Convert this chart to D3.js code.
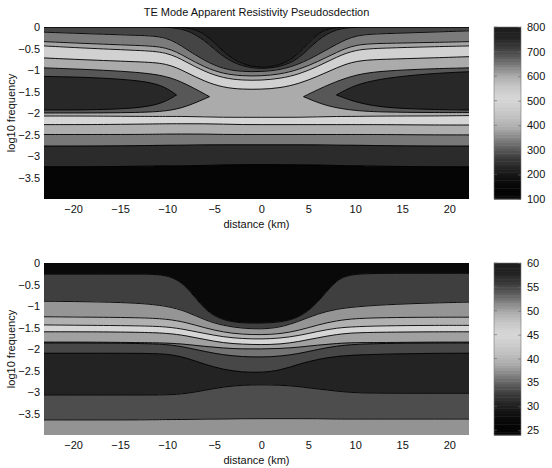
<!DOCTYPE html>
<html>
<head>
<meta charset="utf-8">
<script src="https://cdn.jsdelivr.net/npm/d3@7"></script>
<style>
body { margin: 0; background: #fff; }
text { font-family: "Liberation Sans", Arial, sans-serif; font-size: 11px; fill: #111; }
</style>
</head>
<body>
<svg id="chart" width="552" height="468"></svg>
<script>
// distance nodes (km) shared by both sections
var distance = [-23.1, -18, -13, -10, -8, -6, -4, -2, 0, 2, 4, 6, 8, 10, 13, 18, 22.1];

// colormap: position 0..1 -> grey level
var cmapPos  = [0, 0.06, 0.12, 0.18, 0.24, 0.29, 0.35, 0.41, 0.47, 0.53, 0.59, 0.65, 0.71, 0.76, 0.82, 0.88, 0.94, 1];
var cmapGray = [5, 5, 15, 35, 60, 90, 130, 170, 190, 205, 215, 200, 175, 140, 95, 60, 35, 28];

// upper section: apparent resistivity of each band, top to bottom
var rhoValues = [790, 750, 705, 648, 607, 530, 390, 515, 395, 335, 240, 120];
// log10 frequency of each band boundary at the distance nodes
var rhoBounds = [
  [0, 0, 0, 0, 0, -0.12, -0.6, -0.88, -0.95, -0.9, -0.65, -0.1, 0, 0, 0, 0, 0],
  [0, 0, 0, 0, -0.05, -0.3, -0.72, -0.92, -0.98, -0.93, -0.76, -0.28, -0.04, 0, 0, 0, 0],
  [-0.12, -0.16, -0.195, -0.22, -0.51, -0.79, -0.98, -1.04, -1.04, -1.0, -0.87, -0.65, -0.4, -0.18, -0.155, -0.12, -0.09],
  [-0.34, -0.39, -0.43, -0.46, -0.7, -0.94, -1.09, -1.14, -1.14, -1.1, -0.99, -0.81, -0.59, -0.4, -0.38, -0.36, -0.34],
  [-0.44, -0.5, -0.545, -0.58, -0.81, -1.04, -1.19, -1.24, -1.24, -1.2, -1.1, -0.92, -0.7, -0.52, -0.49, -0.46, -0.44],
  [-0.72, -0.77, -0.81, -0.84, -1.05, -1.27, -1.41, -1.45, -1.45, -1.42, -1.32, -1.15, -0.95, -0.78, -0.75, -0.72, -0.69],
  [-2.07, -2.07, -2.08, -2.08, -2.08, -2.09, -2.1, -2.1, -2.1, -2.1, -2.1, -2.09, -2.08, -2.08, -2.07, -2.07, -2.06],
  [-2.27, -2.27, -2.26, -2.25, -2.25, -2.25, -2.26, -2.27, -2.27, -2.27, -2.27, -2.27, -2.27, -2.27, -2.27, -2.28, -2.28],
  [-2.5, -2.5, -2.5, -2.49, -2.49, -2.49, -2.5, -2.5, -2.5, -2.5, -2.5, -2.5, -2.5, -2.5, -2.5, -2.51, -2.51],
  [-2.77, -2.77, -2.76, -2.75, -2.75, -2.74, -2.74, -2.74, -2.74, -2.74, -2.74, -2.74, -2.75, -2.75, -2.76, -2.77, -2.77],
  [-3.25, -3.25, -3.24, -3.23, -3.23, -3.22, -3.21, -3.2, -3.2, -3.2, -3.21, -3.21, -3.22, -3.23, -3.24, -3.25, -3.25]
];
// closed low-resistivity pockets on both flanks (outer envelope, then core)
var envelopeValue = 300, coreValue = 235;
var envLeftDist   = [-23.1, -18, -13, -10, -8, -5.5];
var envLeftUpper  = [-0.95, -0.99, -1.05, -1.14, -1.32, -1.62];
var envLeftLower  = [-2.0, -2.0, -1.99, -1.96, -1.86, -1.62];
var envRightDist  = [4.5, 7, 10, 13, 18, 22.1];
var envRightUpper = [-1.62, -1.35, -1.1, -1.02, -0.97, -0.95];
var envRightLower = [-1.62, -1.85, -1.95, -1.98, -1.99, -1.99];
var coreLeftDist   = [-23.1, -18, -13, -10.5, -9];
var coreLeftUpper  = [-1.15, -1.17, -1.24, -1.35, -1.58];
var coreLeftLower  = [-1.93, -1.93, -1.89, -1.78, -1.58];
var coreRightDist  = [8, 10, 13, 18, 22.1];
var coreRightUpper = [-1.58, -1.34, -1.19, -1.08, -1.04];
var coreRightLower = [-1.58, -1.75, -1.88, -1.92, -1.93];

// lower section: one value per band, top to bottom
var phaseValues = [27, 32.8, 37.6, 39.5, 45, 50.3, 52.5, 55, 57.8, 54.6, 51];
var phaseBounds = [
  [-0.26, -0.26, -0.26, -0.26, -0.5, -1.12, -1.34, -1.4, -1.4, -1.38, -1.28, -0.95, -0.35, -0.25, -0.24, -0.24, -0.24],
  [-0.89, -0.9, -0.93, -1.0, -1.12, -1.33, -1.46, -1.52, -1.54, -1.5, -1.36, -1.18, -1.07, -1.02, -0.97, -0.93, -0.91],
  [-1.25, -1.26, -1.27, -1.3, -1.38, -1.51, -1.61, -1.66, -1.67, -1.65, -1.57, -1.44, -1.34, -1.29, -1.27, -1.26, -1.26],
  [-1.44, -1.45, -1.46, -1.48, -1.55, -1.64, -1.72, -1.76, -1.77, -1.75, -1.69, -1.59, -1.51, -1.48, -1.46, -1.45, -1.45],
  [-1.6, -1.6, -1.61, -1.63, -1.69, -1.78, -1.86, -1.89, -1.9, -1.89, -1.83, -1.74, -1.66, -1.62, -1.61, -1.6, -1.6],
  [-1.84, -1.84, -1.85, -1.86, -1.89, -1.94, -1.98, -2.0, -2.0, -1.99, -1.96, -1.91, -1.87, -1.85, -1.85, -1.84, -1.84],
  [-1.86, -1.86, -1.87, -1.89, -1.96, -2.06, -2.14, -2.18, -2.19, -2.17, -2.11, -2.01, -1.93, -1.89, -1.87, -1.86, -1.86],
  [-2.1, -2.1, -2.1, -2.11, -2.2, -2.36, -2.48, -2.54, -2.55, -2.5, -2.35, -2.24, -2.17, -2.14, -2.12, -2.1, -2.1],
  [-3.07, -3.07, -3.07, -3.07, -3.04, -2.96, -2.88, -2.84, -2.83, -2.84, -2.87, -2.93, -2.98, -3.02, -3.03, -3.03, -3.03],
  [-3.65, -3.65, -3.65, -3.64, -3.64, -3.63, -3.63, -3.62, -3.62, -3.62, -3.62, -3.62, -3.63, -3.63, -3.63, -3.63, -3.63]
];

var xTicks = [-20, -15, -10, -5, 0, 5, 10, 15, 20];
var yTicks = [0, -0.5, -1, -1.5, -2, -2.5, -3, -3.5];
var rhoTicks = [100, 200, 300, 400, 500, 600, 700, 800];
var phaseTicks = [25, 30, 35, 40, 45, 50, 55, 60];

var rhoPockets = [
  { value: envelopeValue, dist: envLeftDist, upper: envLeftUpper, lower: envLeftLower },
  { value: envelopeValue, dist: envRightDist, upper: envRightUpper, lower: envRightLower },
  { value: coreValue, dist: coreLeftDist, upper: coreLeftUpper, lower: coreLeftLower },
  { value: coreValue, dist: coreRightDist, upper: coreRightUpper, lower: coreRightLower }
];

var svg = d3.select('#chart');
var left = 44, right = 469, plotH = 172;
var cbLeft = 494, cbRight = 521;
var font = '"Liberation Sans", Arial, sans-serif';

var x = d3.scaleLinear().domain(d3.extent(distance)).range([left, right]);
var grey = d3.scaleLinear().domain(cmapPos).range(cmapGray).clamp(true);

svg.append('text').attr('x', (left + right) / 2).attr('y', 13)
  .attr('text-anchor', 'middle').attr('dominant-baseline', 'middle')
  .text('TE Mode Apparent Resistivity Pseudosdection');

function section(top, values, bounds, pockets, cdomain, cticks, id) {
  var y = d3.scaleLinear().domain([-4, 0]).range([top + plotH, top]);
  var c = d3.scaleLinear().domain(cdomain).range([0, 1]);
  var fill = function(v){ var g = Math.round(grey(c(v))); return d3.rgb(g, g, g).toString(); };
  var flat = function(v){ return distance.map(function(){ return v; }); };

  svg.append('clipPath').attr('id', id).append('rect')
    .attr('x', left).attr('y', top).attr('width', right - left).attr('height', plotH);
  var g = svg.append('g').attr('clip-path', 'url(#' + id + ')');

  var idx = d3.range(distance.length);
  values.forEach(function(v, k){
    var upper = k === 0 ? flat(0) : bounds[k - 1];
    var lower = k === values.length - 1 ? flat(-4) : bounds[k];
    var area = d3.area()
      .x(function(i){ return x(distance[i]); })
      .y0(function(i){ return y(upper[i]); })
      .y1(function(i){ return y(lower[i]); })
      .curve(d3.curveBasis);
    g.append('path').attr('d', area(idx)).attr('fill', fill(v))
      .attr('stroke', fill(v)).attr('stroke-width', 0.6);
  });
  var line = d3.line().curve(d3.curveBasis);
  bounds.forEach(function(b){
    g.append('path')
      .attr('d', line(idx.map(function(i){ return [x(distance[i]), y(b[i])]; })))
      .attr('fill', 'none').attr('stroke', '#000').attr('stroke-width', 0.9);
  });
  pockets.forEach(function(p){
    var pi = d3.range(p.dist.length);
    var area = d3.area()
      .x(function(i){ return x(p.dist[i]); })
      .y0(function(i){ return y(p.upper[i]); })
      .y1(function(i){ return y(p.lower[i]); })
      .curve(d3.curveBasis);
    g.append('path').attr('d', area(pi)).attr('fill', fill(p.value));
    [p.upper, p.lower].forEach(function(edge){
      g.append('path')
        .attr('d', line(pi.map(function(i){ return [x(p.dist[i]), y(edge[i])]; })))
        .attr('fill', 'none').attr('stroke', '#000').attr('stroke-width', 0.9);
    });
  });

  // axes
  var xa = svg.append('g').attr('transform', 'translate(0,' + (top + plotH) + ')')
    .call(d3.axisBottom(x).tickValues(xTicks).tickSize(0).tickPadding(6).tickFormat(d3.format('d')));
  var ya = svg.append('g').attr('transform', 'translate(' + left + ',0)')
    .call(d3.axisLeft(y).tickValues(yTicks).tickSize(0).tickPadding(4).tickFormat(d3.format('')));
  [xa, ya].forEach(function(a){
    a.select('.domain').remove();
    a.selectAll('text').attr('font-size', 11).attr('font-family', font).attr('fill', '#111');
  });
  svg.append('text').attr('x', (left + right) / 2).attr('y', top + plotH + 26)
    .attr('text-anchor', 'middle').attr('dominant-baseline', 'middle').text('distance (km)');
  svg.append('text').attr('transform', 'translate(12,' + (top + plotH / 2) + ') rotate(-90)')
    .attr('text-anchor', 'middle').attr('dominant-baseline', 'middle').text('log10 frequency');

  // colour bar
  var cy = d3.scaleLinear().domain(cdomain).range([top + plotH, top]);
  var n = 64, step = (cdomain[1] - cdomain[0]) / n;
  svg.append('g').selectAll('rect').data(d3.range(n)).join('rect')
    .attr('x', cbLeft).attr('width', cbRight - cbLeft)
    .attr('y', function(i){ return cy(cdomain[0] + (i + 1) * step); })
    .attr('height', function(i){ return cy(cdomain[0] + i * step) - cy(cdomain[0] + (i + 1) * step) + 0.5; })
    .attr('fill', function(i){ return fill(cdomain[0] + (i + 0.5) * step); });
  svg.append('rect').attr('x', cbLeft).attr('y', top).attr('width', cbRight - cbLeft).attr('height', plotH)
    .attr('fill', 'none').attr('stroke', '#777').attr('stroke-width', 0.6);
  var ca = svg.append('g').attr('transform', 'translate(' + cbRight + ',0)')
    .call(d3.axisRight(cy).tickValues(cticks).tickSize(-3).tickPadding(6));
  ca.select('.domain').remove();
  ca.selectAll('line').attr('stroke', '#666').attr('stroke-width', 0.6);
  ca.selectAll('text').attr('font-size', 11).attr('font-family', font).attr('fill', '#111');
  svg.append('g').selectAll('line').data(cticks).join('line')
    .attr('x1', cbLeft).attr('x2', cbLeft + 3)
    .attr('y1', cy).attr('y2', cy).attr('stroke', '#666').attr('stroke-width', 0.6);
}

section(27, rhoValues, rhoBounds, rhoPockets, [100, 800], rhoTicks, 'clipTop');
section(263, phaseValues, phaseBounds, [], [24, 60], phaseTicks, 'clipBottom');
</script>
</body>
</html>
